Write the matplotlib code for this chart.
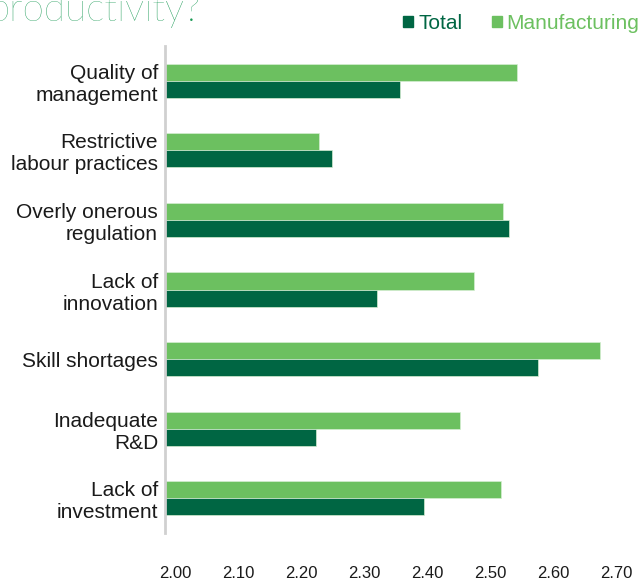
import matplotlib
matplotlib.use('Agg')
import matplotlib.pyplot as plt
import numpy as np
from matplotlib.patches import Patch

categories = ['Quality of\nmanagement', 'Restrictive\nlabour practices',
              'Overly onerous\nregulation', 'Lack of\ninnovation',
              'Skill shortages', 'Inadequate\nR&D', 'Lack of\ninvestment']
total = [2.357, 2.249, 2.530, 2.321, 2.576, 2.224, 2.395]
manufacturing = [2.542, 2.229, 2.521, 2.474, 2.674, 2.452, 2.517]
xticks = [2.00, 2.10, 2.20, 2.30, 2.40, 2.50, 2.60, 2.70]

dark = '#006643'
light = '#6cc060'
base = 1.984

fig = plt.figure(figsize=(6.43, 5.84), dpi=100)
ax = fig.add_axes([165 / 643, 51 / 584, 475 / 643, 487 / 584])

y = np.arange(len(categories))
h = 0.245
ax.barh(y - h / 2, np.array(manufacturing) - base, left=base, height=h,
        color=light, edgecolor='#d6eed2', linewidth=0.5, label='Manufacturing')
ax.barh(y + h / 2, np.array(total) - base, left=base, height=h,
        color=dark, edgecolor='#d6eed2', linewidth=0.5, label='Total')

ax.set_ylim(len(categories) - 0.5, -0.5)
ax.set_xlim(base, 2.738)
ax.set_yticks(y)
ax.set_yticklabels(categories, fontsize=15, family='Liberation Sans',
                   color='#1a1a1a', linespacing=1.2)
ax.set_xticks(xticks)
ax.set_xticklabels([f'{v:.2f}' for v in xticks], fontsize=12,
                   family='Liberation Sans', color='#1a1a1a')
ax.tick_params(axis='y', length=0, pad=5)
ax.tick_params(axis='x', length=0, pad=24)

for s in ['top', 'right', 'bottom']:
    ax.spines[s].set_visible(False)
ax.spines['left'].set_color('#d0d0d0')
ax.spines['left'].set_linewidth(2)

# legend, Total first
handles = [Patch(color=dark, label='Total'), Patch(color=light, label='Manufacturing')]
leg = fig.legend(handles=handles, loc='center left', bbox_to_anchor=(403 / 643, 1 - 23.5 / 584),
                 ncol=2, frameon=False, borderpad=0, borderaxespad=0,
                 handlelength=0.48, handleheight=0.48, handletextpad=0.25,
                 columnspacing=1.4, prop={'family': 'Liberation Sans', 'size': 15})
for txt, c in zip(leg.get_texts(), [dark, light]):
    txt.set_color(c)

# title, cut off at the top of the image
fig.text(-12 / 643, 1 - 21 / 584, 'productivity?', fontsize=28, family='Lato',
         fontweight='light', color='#1a9a55', ha='left', va='baseline')

fig.savefig('out.png', dpi=100)
